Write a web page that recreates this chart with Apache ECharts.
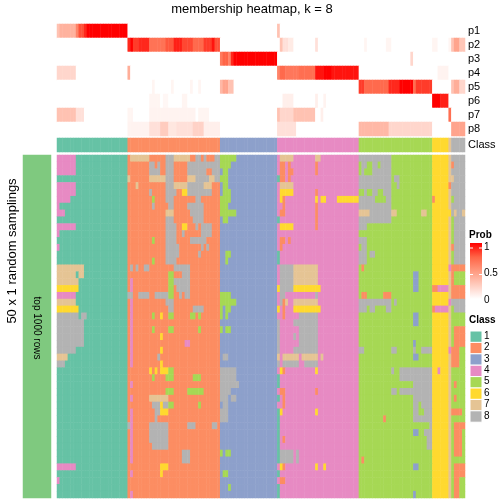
<!DOCTYPE html>
<html><head><meta charset="utf-8">
<script src="https://cdn.jsdelivr.net/npm/echarts/dist/echarts.min.js"></script>
<style>html,body{margin:0;padding:0;background:#fff}#c{width:504px;height:504px}</style>
</head><body><div id="c"></div>
<script>
// ---------- data ----------
const probRowNames = ['p1','p2','p3','p4','p5','p6','p7','p8'];
const classCounts = [26,34,21,30,27,6,1,5];          // columns per class (150 samplings)
const classLabels = ['1','2','3','4','5','6','7','8'];
const classColors = ['#66C2A5','#FC8D62','#8DA0CB','#E78AC3','#A6D854','#FFD92F','#E5C494','#B3B3B3'];
const nRows = 50;
const probTicks = ['1','0.5','0'];

// membership probabilities, runs of [firstCol, lastCol, prob] (others 0)
const p1 = [[0,0,0.3],[1,6,0.38],[7,7,0.6],[8,9,0.8],[10,10,0.9],[11,25,1],[81,81,0.3]];
const p2 = [[26,26,0.9],[27,27,1],[28,29,0.85],[30,33,0.9],[34,39,0.68],[40,42,0.78],[43,45,0.92],[46,49,0.82],[50,53,0.72],[54,56,0.85],[57,57,0.95],[58,59,0.8],[82,82,0.3],[83,84,0.15],[85,86,0.1],[95,95,0.15],[113,113,0.05],[121,122,0.05],[138,139,0.05],[144,144,0.05],[145,145,0.3],[146,147,0.45],[148,149,0.28]];
const p3 = [[60,60,0.65],[61,62,0.75],[63,63,0.6],[64,64,0.9],[65,80,1],[130,130,0.2]];
const p4 = [[0,6,0.2],[26,26,0.4],[81,81,0.6],[82,83,0.72],[84,88,0.66],[89,94,0.7],[95,97,0.95],[98,100,1],[101,110,0.95],[140,143,0.06]];
const p5 = [[35,35,0.05],[42,42,0.05],[49,49,0.05],[52,52,0.05],[60,60,0.35],[61,62,0.45],[63,64,0.3],[111,112,0.85],[113,121,0.72],[122,125,0.9],[126,130,1],[131,131,0.7],[132,137,0.85],[145,145,0.3],[146,147,0.4],[148,149,0.2]];
const p6 = [[34,37,0.05],[39,40,0.04],[46,47,0.05],[83,86,0.08],[95,95,0.08],[98,98,0.06],[138,140,1],[141,143,0.92]];
const p7 = [[0,6,0.3],[7,9,0.15],[26,27,0.05],[34,50,0.06],[52,55,0.05],[81,81,0.3],[82,86,0.2],[87,94,0.3],[97,97,0.08],[144,144,0.7]];
const p8 = [[26,33,0.06],[34,37,0.15],[38,40,0.25],[41,43,0.12],[44,49,0.15],[50,53,0.22],[54,59,0.08],[81,87,0.15],[111,121,0.35],[122,137,0.2],[145,149,0.45]];

// class assignments per random sampling (row) that differ from the consensus column class:
// [firstRow, lastRow, firstCol, lastCol, class]
const class1Blocks = [[0,2,0,6,4],[4,5,0,6,4],[6,6,0,4,4],[7,7,0,0,4],[8,8,0,2,4],[10,10,0,6,4],[11,11,0,0,4],[13,13,0,0,4],
 [16,16,0,9,7],[17,17,0,6,7],[17,17,8,9,7],[18,18,0,7,7],[19,19,0,7,6],[20,20,0,6,4],[21,21,0,6,7],[22,22,0,7,6],[23,23,0,7,8],[23,23,9,10,8],[24,27,0,9,8],[28,28,0,6,8],[29,29,0,3,7],[30,30,0,2,8],[45,45,0,6,4],[47,47,0,0,4]];
const class2Blocks = [[18,19,27,27,4],[21,30,27,27,4],[33,33,27,27,4],[35,35,27,27,4],[37,44,27,27,4],[46,46,27,27,4],[49,49,27,27,4],
 [0,0,27,33,7],[0,0,40,42,8],[0,0,43,48,7],[0,0,51,52,8],[0,0,54,54,8],[0,0,58,59,8],
 [1,1,34,35,8],[1,1,37,37,8],[1,1,40,42,8],[1,1,48,59,8],
 [2,2,34,37,8],[2,2,40,42,8],[2,2,48,54,8],[2,2,57,59,8],
 [3,3,26,26,7],[3,3,34,39,7],[3,3,40,42,8],[3,3,48,50,7],[3,3,51,55,8],[3,3,56,57,7],[3,3,58,59,8],
 [4,4,29,29,7],[4,4,40,42,8],[4,4,43,47,7],[4,4,48,53,8],[4,4,54,56,7],
 [5,5,34,34,8],[5,5,40,43,8],[5,5,46,47,6],[5,5,48,56,8],
 [6,6,35,35,5],[6,6,40,42,8],[6,6,51,52,8],
 [7,7,35,35,8],[7,7,41,42,8],[7,7,48,53,8],
 [8,8,40,42,7],[8,8,49,53,8],
 [9,9,40,42,8],[9,9,50,53,8],
 [10,10,40,43,8],[10,10,46,47,6],[10,10,51,51,8],[10,10,53,56,8],
 [11,11,40,43,8],[11,11,46,46,8],[11,11,53,56,8],
 [12,12,35,35,5],[12,12,40,43,8],[12,12,49,54,8],
 [13,13,40,44,8],[13,13,53,53,8],[13,13,55,55,8],
 [14,14,40,44,8],[14,14,52,52,8],
 [15,15,35,35,5],[15,15,40,43,8],
 [16,16,27,27,8],[16,16,29,29,8],[16,16,32,33,8],[16,16,43,48,8],
 [17,17,41,42,5],[17,17,46,48,8],
 [18,18,41,42,5],[18,18,43,48,8],
 [19,19,41,42,5],[19,19,44,48,8],
 [20,20,26,27,8],[20,20,30,33,8],[20,20,36,40,8],[20,20,41,42,5],[20,20,45,45,8],[20,20,47,48,8],
 [21,21,40,42,8],
 [22,22,41,42,8],[22,22,50,53,8],
 [23,23,35,35,5],[23,23,38,38,6],[23,23,41,42,5],[23,23,49,50,5],[23,23,52,52,5],
 [25,25,35,35,5],[25,25,41,42,5],[25,25,52,52,5],
 [26,26,38,38,6],[27,27,47,48,4],[28,28,38,38,6],[29,29,37,37,8],[30,30,38,38,6],
 [31,31,34,34,6],[31,31,36,36,6],[31,31,38,40,6],[31,31,41,42,5],
 [32,32,35,35,5],[32,32,40,42,5],[32,32,50,52,5],
 [34,34,40,42,5],[34,34,48,53,5],
 [35,35,34,40,7],
 [36,36,35,37,8],[36,36,38,38,6],[36,36,39,40,8],[36,36,41,42,5],[36,36,52,52,5],
 [37,37,36,37,8],[37,37,38,40,6],
 [38,38,36,36,8],
 [39,39,26,26,8],[39,41,34,40,8],[39,39,48,50,8],[39,39,57,58,8],
 [42,42,35,40,8],[43,44,46,48,8],[45,45,38,40,6],[46,46,38,38,6]];
const class3Blocks = [[0,0,60,65,5],[1,1,60,63,5],[2,2,61,62,5],[3,3,60,62,5],[4,4,61,62,5],[5,5,61,63,5],[6,6,60,63,5],[7,7,60,62,5],[8,8,60,65,5],[9,9,61,62,5],
 [14,14,62,63,5],[15,15,62,62,5],[20,20,60,63,5],[21,21,60,65,5],[22,22,60,60,5],[22,22,62,63,5],[23,23,60,60,5],[23,23,62,62,5],
 [25,25,60,60,5],[25,25,62,63,5],[29,29,61,62,8],[31,32,60,65,8],[33,33,60,66,8],[34,34,60,63,8],[35,35,60,62,8],[35,35,64,65,8],
 [36,36,61,62,8],[37,38,60,62,8],[43,43,60,60,5],[43,43,62,63,5],[46,46,61,62,5],[48,48,63,63,5]];
const class4Blocks = [[0,0,82,86,7],[0,0,95,96,7],
 [1,1,82,83,2],[1,1,85,85,2],[1,1,95,95,2],
 [2,2,82,83,2],[2,2,85,86,2],[2,2,95,95,2],
 [3,3,81,81,1],[3,3,82,83,2],[3,3,85,85,2],
 [4,4,82,86,7],
 [5,5,82,86,6],[5,5,95,95,2],
 [6,6,82,82,6],[6,6,83,83,2],[6,6,95,95,6],[6,6,97,98,6],[6,6,103,110,6],
 [7,7,83,83,2],[7,7,95,95,2],
 [8,8,82,83,2],[8,8,95,95,2],
 [9,9,81,81,1],[9,9,95,95,2],
 [10,10,82,86,6],[10,10,95,95,2],
 [12,12,82,83,2],[12,12,85,85,2],
 [13,13,82,82,2],
 [14,15,81,81,1],
 [16,18,82,86,8],[16,18,87,95,7],
 [19,19,81,81,6],[19,19,82,86,8],[19,19,87,95,6],[19,19,96,96,6],
 [20,20,82,83,8],[20,20,95,95,8],
 [21,21,82,82,8],[21,21,83,83,2],[21,21,84,84,7],[21,21,87,95,7],
 [22,22,81,81,6],[22,22,83,83,2],[22,22,87,95,6],[22,22,96,96,6],
 [23,23,83,83,2],[23,23,89,95,8],
 [24,28,81,81,8],
 [24,24,87,95,8],[25,25,89,95,8],[26,26,87,87,8],[26,26,89,95,8],[27,27,89,95,8],[28,28,87,95,8],
 [29,29,81,81,7],[29,29,83,88,7],[29,29,90,95,7],[29,29,97,97,7],
 [30,30,81,81,8],[30,30,83,88,8],[30,30,91,95,8],
 [31,31,82,82,6],[31,31,83,83,2],[31,31,95,95,6],
 [32,33,81,81,1],
 [34,34,82,83,2],[34,34,95,95,2],
 [35,35,81,81,1],[35,35,83,83,2],
 [36,36,83,83,2],
 [37,44,81,81,1],
 [37,37,82,82,6],[37,37,95,95,6],
 [41,41,83,83,2],
 [43,44,82,86,8],[43,44,88,88,8],
 [45,45,82,82,6],[45,45,83,83,2],[45,45,95,95,6],[45,45,98,98,6],
 [46,46,81,81,1],
 [47,47,82,83,2],
 [48,49,81,81,1]];
const class5Blocks = [[0,0,111,122,8],
 [1,1,112,113,8],[1,1,116,117,8],[1,1,119,122,8],
 [2,2,112,112,8],[2,2,116,122,8],
 [3,3,111,122,8],[3,3,124,125,8],
 [4,4,111,122,8],[4,4,125,125,8],
 [5,5,113,113,8],[5,5,116,117,8],[5,5,120,122,8],
 [6,6,111,116,8],[6,6,121,122,8],
 [7,7,111,122,8],
 [8,8,111,114,7],[8,8,115,122,8],[8,8,123,124,7],[8,8,134,135,7],
 [9,9,111,122,8],
 [10,10,111,113,8],[12,12,111,113,8],[13,13,112,113,8],
 [14,14,111,113,8],[14,14,115,116,8],[15,15,111,113,8],
 [16,16,112,112,2],
 [17,19,131,132,3],
 [20,20,112,113,2],[20,20,120,122,2],
 [21,21,111,122,8],[21,21,124,124,8],
 [22,22,111,113,8],[22,22,115,116,8],[22,22,121,122,8],
 [23,24,131,132,3],[27,27,131,131,3],
 [28,28,111,112,8],[28,28,123,124,8],[28,28,131,131,8],[28,28,134,137,8],
 [29,29,131,132,3],
 [31,31,123,123,8],[31,31,126,137,8],
 [32,32,126,137,8],
 [33,33,131,137,8],
 [34,34,123,124,8],[34,34,126,137,8],
 [35,35,131,137,8],
 [36,36,131,132,8],[36,36,134,137,8],
 [37,37,131,132,8],[37,37,135,137,8],
 [38,38,120,120,2],[38,38,131,137,8],
 [39,39,137,137,8],
 [40,40,131,132,3],[40,40,135,137,8],
 [41,42,136,137,8],
 [44,44,112,112,2],
 [45,45,131,132,3],
 [49,49,131,131,3]];
const class678Blocks = [[6,6,138,138,2],[19,19,138,139,2],[19,19,140,143,4],[22,22,138,138,2],[22,22,139,143,4],[31,31,140,140,4],
 [1,1,145,145,2],[3,3,145,145,7],[4,4,144,144,2],[6,6,145,145,5],
 [8,8,144,144,6],[8,8,146,146,7],[8,8,149,149,7],
 [9,15,145,145,5],[13,13,145,145,2],
 [16,16,144,144,4],[16,16,145,149,2],
 [17,18,145,145,2],[17,18,146,149,5],
 [19,20,145,149,2],
 [21,21,144,144,4],
 [22,22,145,145,5],
 [23,49,145,149,5],
 [25,27,146,149,2],
 [28,30,145,147,2],[28,28,144,144,4],
 [33,33,146,146,2],[35,35,146,146,2],[37,37,145,148,2],[39,39,146,149,2],
 [40,43,146,148,2],[45,46,146,149,2],[47,49,146,147,2]];

// ---------- build ----------
const colClass = [];
classCounts.forEach((n, k) => { for (let i = 0; i < n; i++) colClass.push(k + 1); });
const nCols = colClass.length;
const colIdx = colClass.map((_, i) => i);

const probData = [];
[p1,p2,p3,p4,p5,p6,p7,p8].forEach((segs, r) => {
  const v = new Array(nCols).fill(0);
  segs.forEach(([a, b, p]) => { for (let c = a; c <= b; c++) v[c] = p; });
  v.forEach((p, c) => probData.push([c, r, p]));
});
const classBarData = colClass.map((k, c) => [c, 0, k]);

const grid = [];
for (let r = 0; r < nRows; r++) grid.push(colClass.slice());
[class1Blocks, class2Blocks, class3Blocks, class4Blocks, class5Blocks, class678Blocks].forEach(list =>
  list.forEach(([r0, r1, c0, c1, k]) => {
    for (let r = r0; r <= r1; r++) for (let c = c0; c <= c1; c++) grid[r][c] = k;
  }));
const mainData = [];
grid.forEach((row, r) => row.forEach((k, c) => mainData.push([c, r, k])));
const rowIdx = grid.map((_, i) => i);

// ---------- chart ----------
const FONT = 'Liberation Sans, Arial, sans-serif';
const chart = echarts.init(document.getElementById('c'), null, {renderer: 'canvas'});
const hiddenAxis = (data, extra) => Object.assign({type: 'category', data, show: false}, extra || {});
const rightAxis = (data, grid) => ({type: 'category', data, gridIndex: grid, position: 'right', inverse: true,
  axisLine: {show: false}, axisTick: {show: false},
  axisLabel: {color: '#000', fontSize: 11, fontFamily: FONT, margin: 3, interval: 0}});

const legendGraphics = [];
legendGraphics.push({type: 'text', left: 469, top: 230, z: 100, style: {text: 'Prob', font: 'bold 10px ' + FONT, fill: '#000'}});
legendGraphics.push({type: 'rect', z: 100, shape: {x: 470, y: 243, width: 12, height: 56},
  style: {fill: new echarts.graphic.LinearGradient(0, 0, 0, 1, [
    {offset: 0, color: '#FF0000'}, {offset: 0.25, color: '#FF6446'}, {offset: 0.5, color: '#FF9A80'},
    {offset: 0.75, color: '#FFCCBF'}, {offset: 1, color: '#FFFFFF'}])}});
probTicks.forEach((t, i) => {
  const y = 248 + i * 26.5;
  legendGraphics.push({type: 'line', z: 101, shape: {x1: 470, y1: y, x2: 473, y2: y}, style: {stroke: '#fff', lineWidth: 1}});
  legendGraphics.push({type: 'line', z: 101, shape: {x1: 479, y1: y, x2: 482, y2: y}, style: {stroke: '#fff', lineWidth: 1}});
  legendGraphics.push({type: 'text', z: 100, left: 484, top: y - 6, style: {text: t, font: '10px ' + FONT, fill: '#000'}});
});
legendGraphics.push({type: 'text', z: 100, left: 469, top: 315, style: {text: 'Class', font: 'bold 10px ' + FONT, fill: '#000'}});
classLabels.forEach((t, i) => {
  const y = 331 + i * 11.4;
  legendGraphics.push({type: 'rect', z: 100, shape: {x: 470, y: y, width: 12, height: 11.4},
    style: {fill: classColors[i], stroke: '#fff', lineWidth: 1}});
  legendGraphics.push({type: 'text', z: 100, left: 484, top: y, style: {text: t, font: '10px ' + FONT, fill: '#000'}});
});

chart.setOption({
  animation: false,
  backgroundColor: '#fff',
  grid: [
    {left: 57, top: 24, width: 408, height: 112},
    {left: 57, top: 138, width: 408, height: 14},
    {left: 57, top: 155, width: 408, height: 343},
    {left: 23, top: 155, width: 28, height: 343}
  ],
  xAxis: [
    hiddenAxis(colIdx, {gridIndex: 0}),
    hiddenAxis(colIdx, {gridIndex: 1}),
    hiddenAxis(colIdx, {gridIndex: 2}),
    hiddenAxis(['a'], {gridIndex: 3})
  ],
  yAxis: [
    rightAxis(probRowNames, 0),
    rightAxis(['Class'], 1),
    hiddenAxis(rowIdx, {gridIndex: 2, inverse: true}),
    hiddenAxis(['a'], {gridIndex: 3})
  ],
  visualMap: [
    {type: 'continuous', min: 0, max: 1, dimension: 2, seriesIndex: 0, show: false,
     inRange: {color: ['#FFFFFF', '#FFCCBF', '#FF9A80', '#FF6446', '#FF0000']}},
    {type: 'piecewise', dimension: 2, seriesIndex: [1, 2], show: false,
     pieces: classColors.map((c, i) => ({value: i + 1, color: c}))}
  ],
  series: [
    {type: 'heatmap', xAxisIndex: 0, yAxisIndex: 0, data: probData, progressive: 0},
    {type: 'heatmap', xAxisIndex: 1, yAxisIndex: 1, data: classBarData, progressive: 0},
    {type: 'heatmap', xAxisIndex: 2, yAxisIndex: 2, data: mainData, progressive: 0},
    {type: 'heatmap', xAxisIndex: 3, yAxisIndex: 3, data: [[0, 0, 1]], itemStyle: {color: '#7FC97F'}, progressive: 0}
  ],
  graphic: [
    {type: 'text', z: 100, left: 'center', top: 3, style: {text: 'membership heatmap, k = 8', font: '13px ' + FONT, fill: '#000'}},
    {type: 'text', z: 100, x: 12, y: 251, rotation: Math.PI / 2,
     style: {text: '50 x 1 random samplings', font: '13px ' + FONT, fill: '#000', align: 'center', verticalAlign: 'middle'}},
    {type: 'text', z: 100, x: 37, y: 328, rotation: -Math.PI / 2,
     style: {text: 'top 1000 rows', font: '10px ' + FONT, fill: '#000', align: 'center', verticalAlign: 'middle'}}
  ].concat(legendGraphics)
});
</script>
</body></html>
